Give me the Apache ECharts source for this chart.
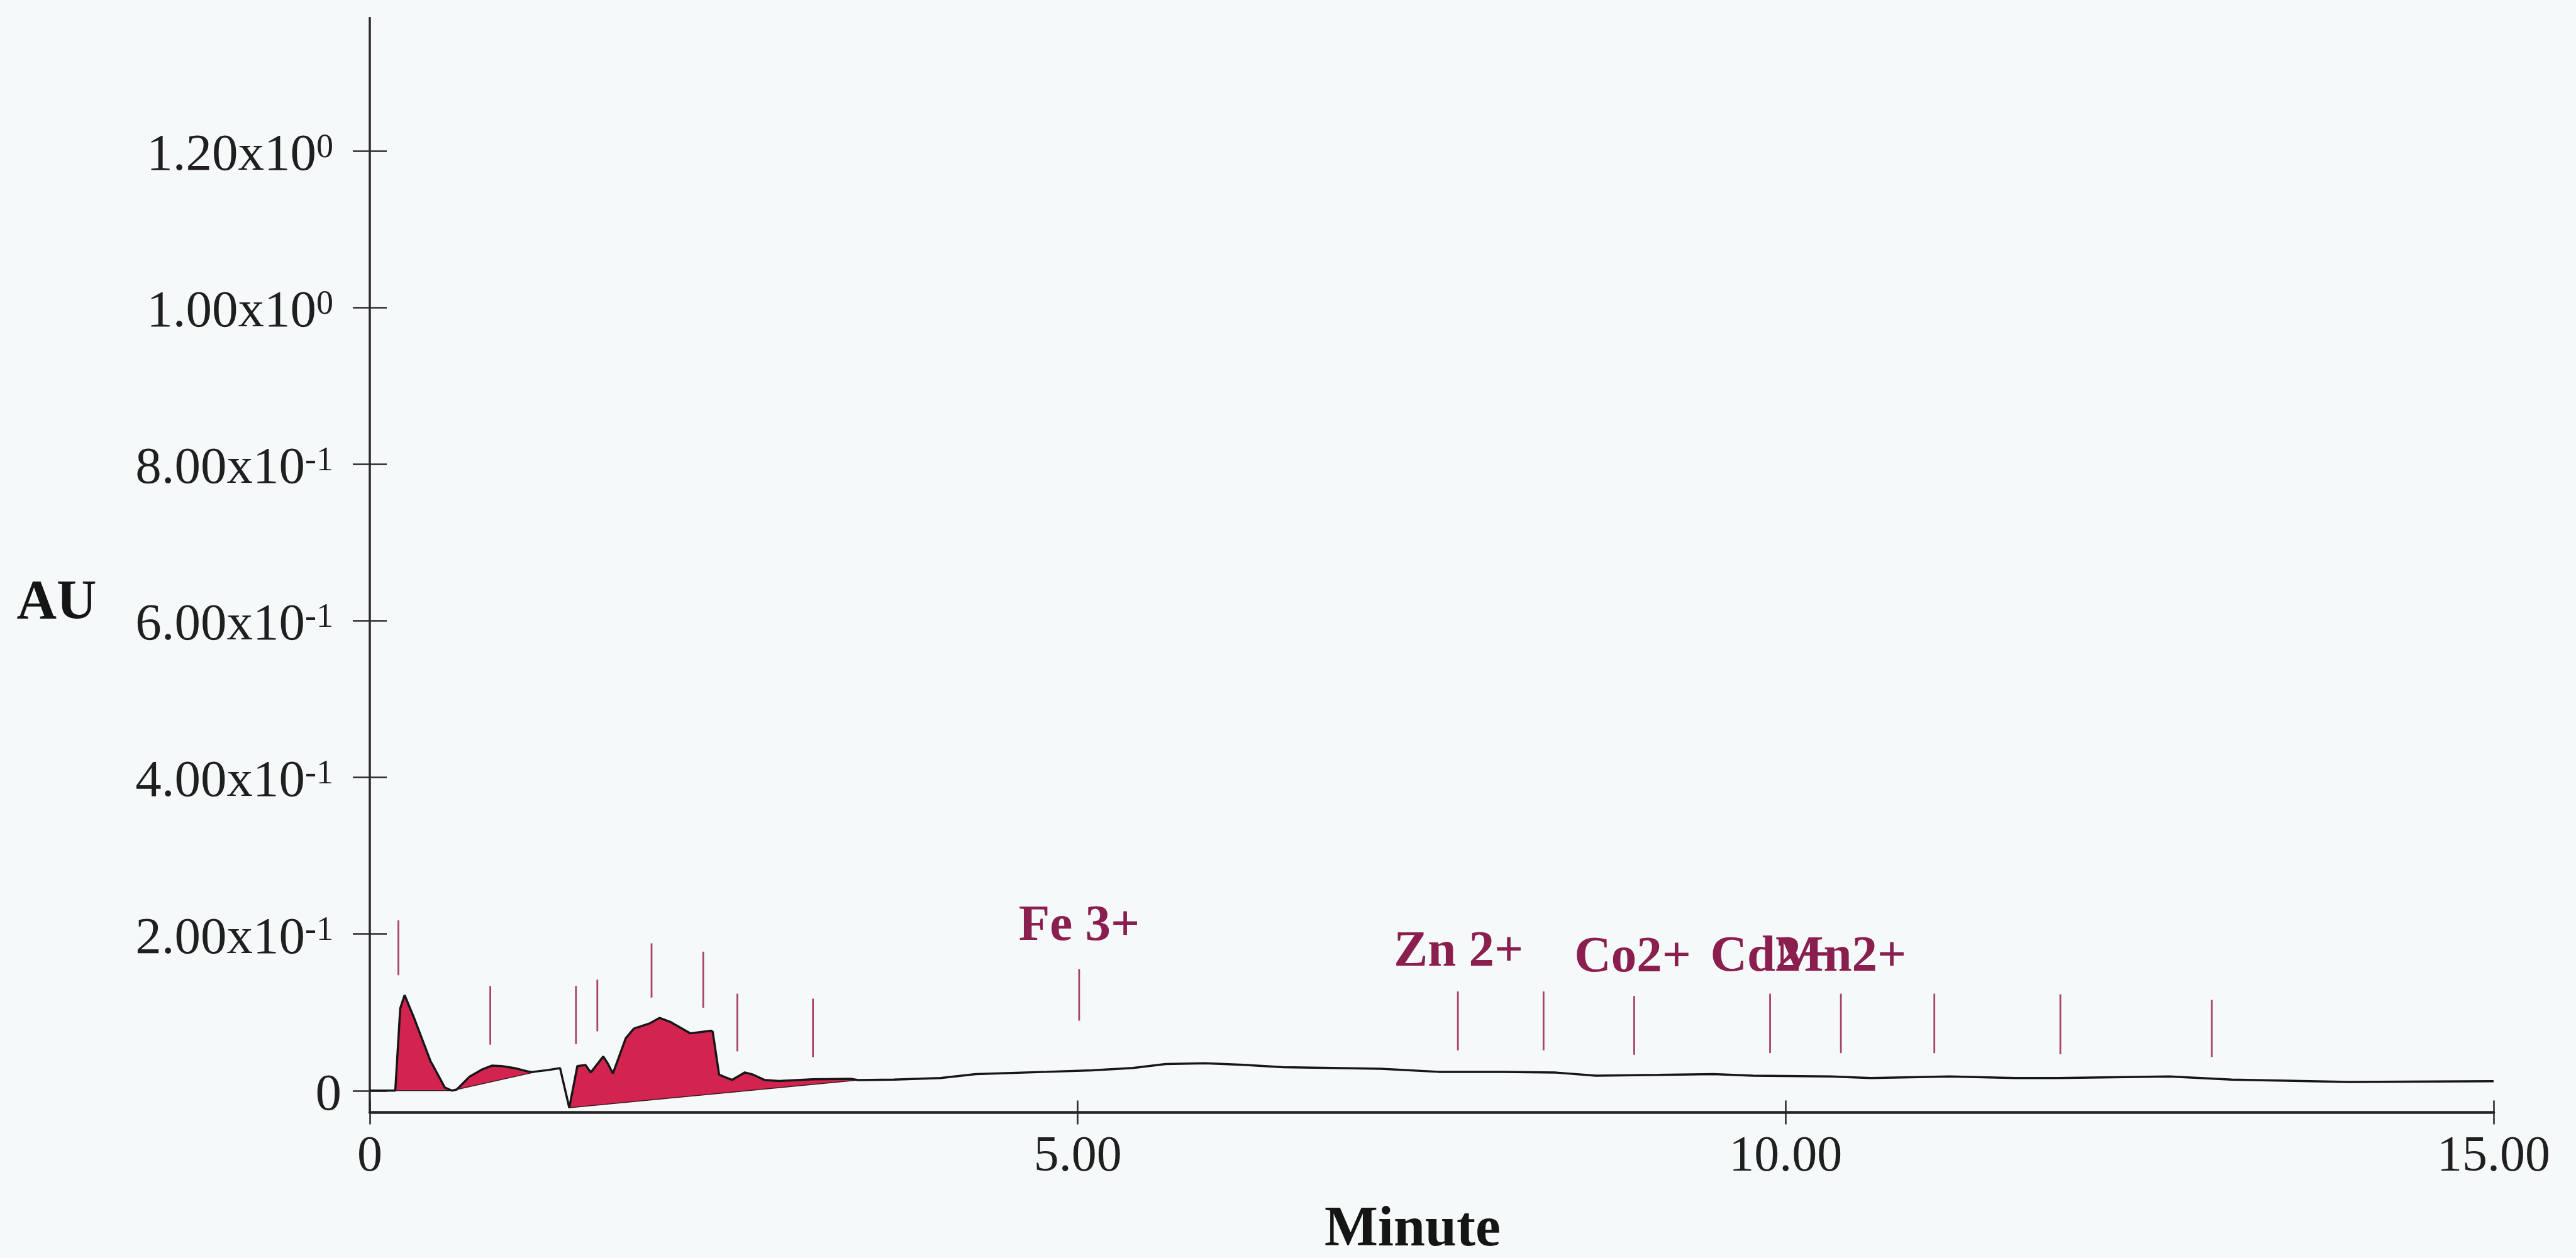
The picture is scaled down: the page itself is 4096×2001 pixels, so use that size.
<!DOCTYPE html>
<html>
<head>
<meta charset="utf-8">
<script src="https://cdn.jsdelivr.net/npm/echarts@6/dist/echarts.min.js"></script>
<style>
html,body{margin:0;padding:0;background:#f6f9fa;}
#c{width:4096px;height:2001px;}
</style>
</head>
<body>
<div id="c"></div>
<script>
// ---- data ----
const traceTime = [0, 0.18, 0.215, 0.246, 0.31, 0.43, 0.44, 0.53, 0.58, 0.614, 0.705, 0.796, 0.864, 0.932, 1.023, 1.114, 1.146, 1.20, 1.248, 1.344,
  1.409, 1.466, 1.523, 1.561, 1.649, 1.683, 1.717, 1.808, 1.865, 1.979, 2.047, 2.127, 2.218, 2.263, 2.411, 2.422, 2.467, 2.501, 2.558, 2.649,
  2.706, 2.786, 2.888, 3.127, 3.395, 3.45, 3.7, 4.03, 4.28, 4.78, 5.1, 5.39, 5.62, 5.9, 6.17, 6.45, 7.14, 7.55, 8.0, 8.38,
  8.66, 9.1, 9.49, 9.77, 10.32, 10.60, 11.16, 11.62, 11.92, 12.71, 13.15, 13.98, 15.0];
const traceAU = [0, 0, 0.105, 0.122, 0.094, 0.037, 0.034, 0.004, 0.0, 0.0014, 0.0178, 0.0273, 0.032, 0.0314, 0.0287, 0.0246, 0.0238, 0.025, 0.026, 0.0287,
  -0.0219, 0.0314, 0.0328, 0.0232, 0.0437, 0.034, 0.0219, 0.0669, 0.0792, 0.0861, 0.0929, 0.0874, 0.0779, 0.0732, 0.0765, 0.0751, 0.0205, 0.0178, 0.0137, 0.0232,
  0.0205, 0.0137, 0.0123, 0.0145, 0.015, 0.0135, 0.014, 0.016, 0.021, 0.024, 0.026, 0.029, 0.034, 0.035, 0.033, 0.030, 0.028, 0.024, 0.024, 0.023,
  0.019, 0.020, 0.021, 0.019, 0.018, 0.016, 0.018, 0.016, 0.016, 0.018, 0.014, 0.011, 0.012];

// integrated peaks: start/end time and baseline values
const peakStart = [0.18, 0.614, 1.409];
const peakEnd = [0.58, 1.20, 3.45];
const baseStartAU = [0, 0.0014, -0.0219];
const baseEndAU = [0, 0.025, 0.0135];

// retention-window markers
const markerTime = [0.202, 0.851, 1.456, 1.607, 1.99, 2.355, 2.596, 3.13, 5.01, 7.685, 8.29, 8.93, 9.89, 10.39, 11.05, 11.94, 13.01];
const markerTopAU = [0.2175, 0.1338, 0.1338, 0.1417, 0.1882, 0.1775, 0.1238, 0.1174, 0.1553, 0.1267, 0.1267, 0.1209, 0.1238, 0.1238, 0.1238, 0.1231, 0.1159];
const markerBottomAU = [0.1474, 0.0587, 0.0594, 0.0758, 0.1188, 0.1059, 0.0501, 0.0429, 0.0894, 0.0515, 0.0515, 0.0458, 0.0479, 0.0479, 0.0479, 0.0465, 0.0429];

// ion names
const ionNames = ['Fe 3+', 'Zn 2+', 'Co2+', 'Cd2+', 'Mn2+'];
const ionTime = [5.01, 7.69, 8.92, 9.89, 10.39];
const ionAU = [0.2097, 0.1767, 0.1689, 0.1703, 0.1703];

// axis ticks
const yTicks = [0, 0.2, 0.4, 0.6, 0.8, 1.0, 1.2];
const yTickMantissa = ['0', '2.00x10', '4.00x10', '6.00x10', '8.00x10', '1.00x10', '1.20x10'];
const yTickExponent = ['', '-1', '-1', '-1', '-1', '0', '0'];
const xTickLabels = ['0', '5.00', '10.00', '15.00'];

// ---- chart ----
const serif = '"Liberation Serif", "Times New Roman", serif';
const ink = '#1f1f1f';
const chart = echarts.init(document.getElementById('c'), null, {renderer: 'canvas'});

const tracePts = traceTime.map((t, i) => [t, traceAU[i]]);

function yFormatter(v) {
  let idx = -1;
  for (let i = 0; i < yTicks.length; i++) if (Math.abs(yTicks[i] - v) < 1e-6) idx = i;
  if (idx < 0) return '';
  if (!yTickExponent[idx]) return '{m|' + yTickMantissa[idx] + '}';
  return '{m|' + yTickMantissa[idx] + '}{s|' + yTickExponent[idx] + '}';
}

const option = {
  backgroundColor: '#f6f9fa',
  animation: false,
  grid: {left: 588, right: 131, top: 28.5, bottom: 231.5, containLabel: false, outerBoundsMode: 'none'},
  xAxis: [
    {
      type: 'value', min: 0, max: 15, interval: 5, position: 'bottom',
      axisLine: {show: true, onZero: false, lineStyle: {color: '#262626', width: 4.5}},
      axisTick: {show: true, length: 19, lineStyle: {color: '#262626', width: 2.5}},
      axisLabel: {
        show: true, margin: 31, fontFamily: serif, fontSize: 80, lineHeight: 80, color: ink,
        formatter: v => xTickLabels[Math.round(v / 5)]
      },
      splitLine: {show: false}
    },
    {
      type: 'value', min: 0, max: 15, interval: 5, position: 'bottom',
      axisLine: {show: false, onZero: false},
      axisTick: {show: true, inside: true, length: 19, lineStyle: {color: '#262626', width: 2.5}},
      axisLabel: {show: false},
      splitLine: {show: false}
    }
  ],
  yAxis: [
    {
      type: 'value', min: -0.0279, max: 1.3703, position: 'left',
      axisLine: {show: true, onZero: false, lineStyle: {color: '#2a2a2a', width: 3.5}},
      axisTick: {show: true, customValues: yTicks, length: 27, lineStyle: {color: '#2a2a2a', width: 2.5}},
      axisLabel: {
        show: true, customValues: yTicks, margin: 45, padding: [16, 0, 0, 0],
        formatter: yFormatter,
        rich: {
          m: {fontFamily: serif, fontSize: 83, lineHeight: 80, color: ink},
          s: {fontFamily: serif, fontSize: 54, lineHeight: 43, verticalAlign: 'top', color: ink, padding: [0, 13, 0, 0]}
        }
      },
      splitLine: {show: false}
    },
    {
      type: 'value', min: -0.0279, max: 1.3703, position: 'left',
      axisLine: {show: false, onZero: false},
      axisTick: {show: true, inside: true, customValues: yTicks, length: 27, lineStyle: {color: '#2a2a2a', width: 2.5}},
      axisLabel: {show: false},
      splitLine: {show: false}
    }
  ],
  graphic: [
    {type: 'text', x: 90, y: 960, z: 10,
      style: {text: 'AU', font: 'bold 88px ' + serif, fill: '#151515', align: 'center', verticalAlign: 'middle', textAlign: 'center', textVerticalAlign: 'middle'}},
    {type: 'text', x: 2246, y: 1958, z: 10,
      style: {text: 'Minute', font: 'bold 90px ' + serif, fill: '#151515', align: 'center', verticalAlign: 'middle', textAlign: 'center', textVerticalAlign: 'middle'}}
  ],
  series: [
    {
      type: 'custom', name: 'peaks', z: 2, silent: true,
      data: peakStart.map((s, i) => [s, peakEnd[i], baseStartAU[i], baseEndAU[i]]),
      encode: {x: [0, 1], y: [2, 3]},
      renderItem: function (params, api) {
        const s = api.value(0), e = api.value(1), b0 = api.value(2), b1 = api.value(3);
        const pts = [];
        for (let i = 0; i < traceTime.length; i++) {
          if (traceTime[i] >= s - 1e-9 && traceTime[i] <= e + 1e-9) pts.push(api.coord([traceTime[i], traceAU[i]]));
        }
        const pe = api.coord([e, b1]);
        const ps = api.coord([s, b0]);
        pts.push(pe); pts.push(ps);
        return {
          type: 'group',
          children: [
            {type: 'polygon', shape: {points: pts}, style: {fill: '#d3244f', stroke: null}},
            {type: 'line', shape: {x1: ps[0], y1: ps[1], x2: pe[0], y2: pe[1]}, style: {stroke: '#3a1a22', lineWidth: 1.5}}
          ]
        };
      }
    },
    {
      type: 'line', name: 'trace', z: 3, silent: true,
      data: tracePts, showSymbol: false, symbol: 'none', smooth: false,
      lineStyle: {color: '#161616', width: 3.5}
    },
    {
      type: 'custom', name: 'markers', z: 4, silent: true,
      data: markerTime.map((t, i) => [t, markerTopAU[i], markerBottomAU[i]]),
      encode: {x: 0, y: [1, 2]},
      renderItem: function (params, api) {
        const p1 = api.coord([api.value(0), api.value(1)]);
        const p2 = api.coord([api.value(0), api.value(2)]);
        return {type: 'line', shape: {x1: p1[0], y1: p1[1], x2: p2[0], y2: p2[1]}, style: {stroke: '#a8426c', lineWidth: 2.8}};
      }
    },
    {
      type: 'custom', name: 'ions', z: 5, silent: true,
      data: ionTime.map((t, i) => [t, ionAU[i], i]),
      encode: {x: 0, y: 1},
      renderItem: function (params, api) {
        const p = api.coord([api.value(0), api.value(1)]);
        const name = ionNames[api.value(2)];
        return {
          type: 'text', x: p[0], y: p[1],
          style: {text: name, font: 'bold 81px ' + serif, fill: '#8a1f4f',
            align: 'center', verticalAlign: 'middle', textAlign: 'center', textVerticalAlign: 'middle'}
        };
      }
    }
  ]
};
chart.setOption(option);
</script>
</body>
</html>
